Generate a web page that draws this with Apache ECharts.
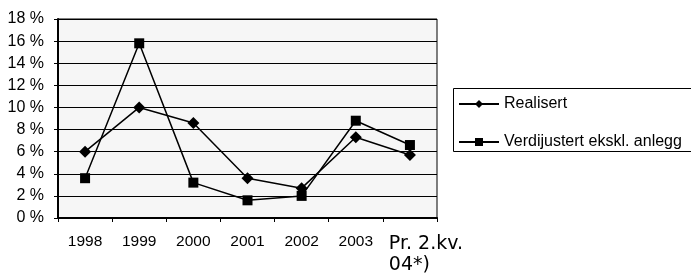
<!DOCTYPE html>
<html>
<head>
<meta charset="utf-8">
<script src="https://cdn.jsdelivr.net/npm/echarts@6/dist/echarts.min.js"></script>
<style>
  html, body { margin: 0; padding: 0; background: #fff; }
  #chart { width: 691px; height: 275px; }
</style>
</head>
<body>
<div id="chart"></div>
<script>
// categories and values
var categories = ['1998', '1999', '2000', '2001', '2002', '2003', 'Pr. 2.kv. 04*)'];
var realisert = [6.0, 10.0, 8.6, 3.6, 2.7, 7.3, 5.7];
var verdijustert = [3.6, 15.8, 3.2, 1.6, 2.0, 8.8, 6.6];
var seriesNames = ['Realisert', 'Verdijustert ekskl. anlegg'];

var dom = document.getElementById('chart');
var myChart = echarts.init(dom);

var option = {
    animation: false,
    backgroundColor: '#fff',
    textStyle: { fontFamily: 'Liberation Sans', color: '#000' },
    grid: {
        left: 58, top: 19, right: 254, bottom: 53,
        show: true,
        backgroundColor: '#f6f6f6',
        borderColor: '#000',
        borderWidth: 1
    },
    // legend frame runs off the right edge in the original
    graphic: [{
        type: 'rect',
        left: 453, top: 88,
        shape: { width: 260, height: 63 },
        style: { fill: '#fff', stroke: '#000', lineWidth: 1 },
        z: -1
    }],
    legend: {
        orient: 'vertical',
        left: 453, top: 88,
        padding: [8, 5, 1, 5],
        itemGap: 22,
        itemWidth: 40,
        itemHeight: 10,
        itemTextGap: 8,
        textStyle: { fontSize: 16, color: '#000', fontFamily: 'Liberation Sans', lineHeight: 16 },
        data: seriesNames
    },
    xAxis: {
        type: 'category',
        data: categories,
        boundaryGap: true,
        axisLine: { lineStyle: { color: '#000', width: 2 } },
        axisTick: { show: true, length: 4, lineStyle: { color: '#000' } },
        axisLabel: {
            interval: 0,
            margin: 16,
            fontSize: 15.5,
            color: '#000',
            formatter: function (v) {
                // the last label is two lines in a Verdana-like face
                if (v.indexOf('Pr.') === 0) {
                    return '{p|Pr. 2.kv.}\n{p|04*)}';
                }
                return v;
            },
            rich: {
                p: {
                    fontFamily: 'DejaVu Sans',
                    fontSize: 19,
                    lineHeight: 21,
                    align: 'left',
                    padding: [0, 0, 0, 32],
                    color: '#000'
                }
            }
        }
    },
    yAxis: {
        type: 'value',
        min: 0, max: 18, interval: 2,
        axisLine: { show: true, lineStyle: { color: '#000', width: 2 } },
        axisTick: { show: true, length: 4, lineStyle: { color: '#000' } },
        axisLabel: { margin: 14, fontSize: 16, color: '#000', formatter: '{value} %' },
        splitLine: { show: true, lineStyle: { color: '#000', width: 1 } }
    },
    series: [{
        name: seriesNames[0],
        type: 'line',
        data: realisert,
        symbol: 'diamond',
        symbolSize: 12,
        lineStyle: { color: '#000', width: 1.5 },
        itemStyle: { color: '#000' }
    }, {
        name: seriesNames[1],
        type: 'line',
        data: verdijustert,
        symbol: 'rect',
        symbolSize: 10,
        lineStyle: { color: '#000', width: 1.5 },
        itemStyle: { color: '#000' }
    }]
};

myChart.setOption(option);
</script>
</body>
</html>
